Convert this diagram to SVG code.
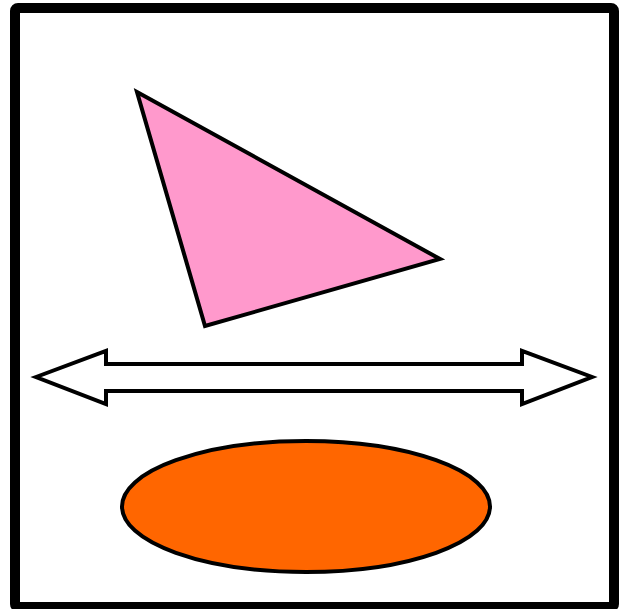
<svg xmlns="http://www.w3.org/2000/svg" width="622" height="609" viewBox="0 0 622 609">
<style>
.shape{stroke:#000;stroke-width:4;stroke-linejoin:miter}
</style>
<rect width="622" height="609" fill="#fff"/>
<g id="frame"><rect x="15" y="8" width="599" height="599" rx="3" fill="#fff" stroke="#000" stroke-width="10"/></g>
<g id="triangle"><polygon class="shape" points="137,92 440,259 205,326" fill="#FF99CC"/></g>
<g id="connectors"><path id="double-arrow" class="shape" fill="#fff" d="M36,377 L106,351 L106,364 L522,364 L522,351 L592,377 L522,404 L522,391 L106,391 L106,404 Z"/></g>
<g id="ellipse"><ellipse class="shape" cx="306" cy="506.5" rx="184" ry="65.5" fill="#FF6600"/></g>
</svg>
